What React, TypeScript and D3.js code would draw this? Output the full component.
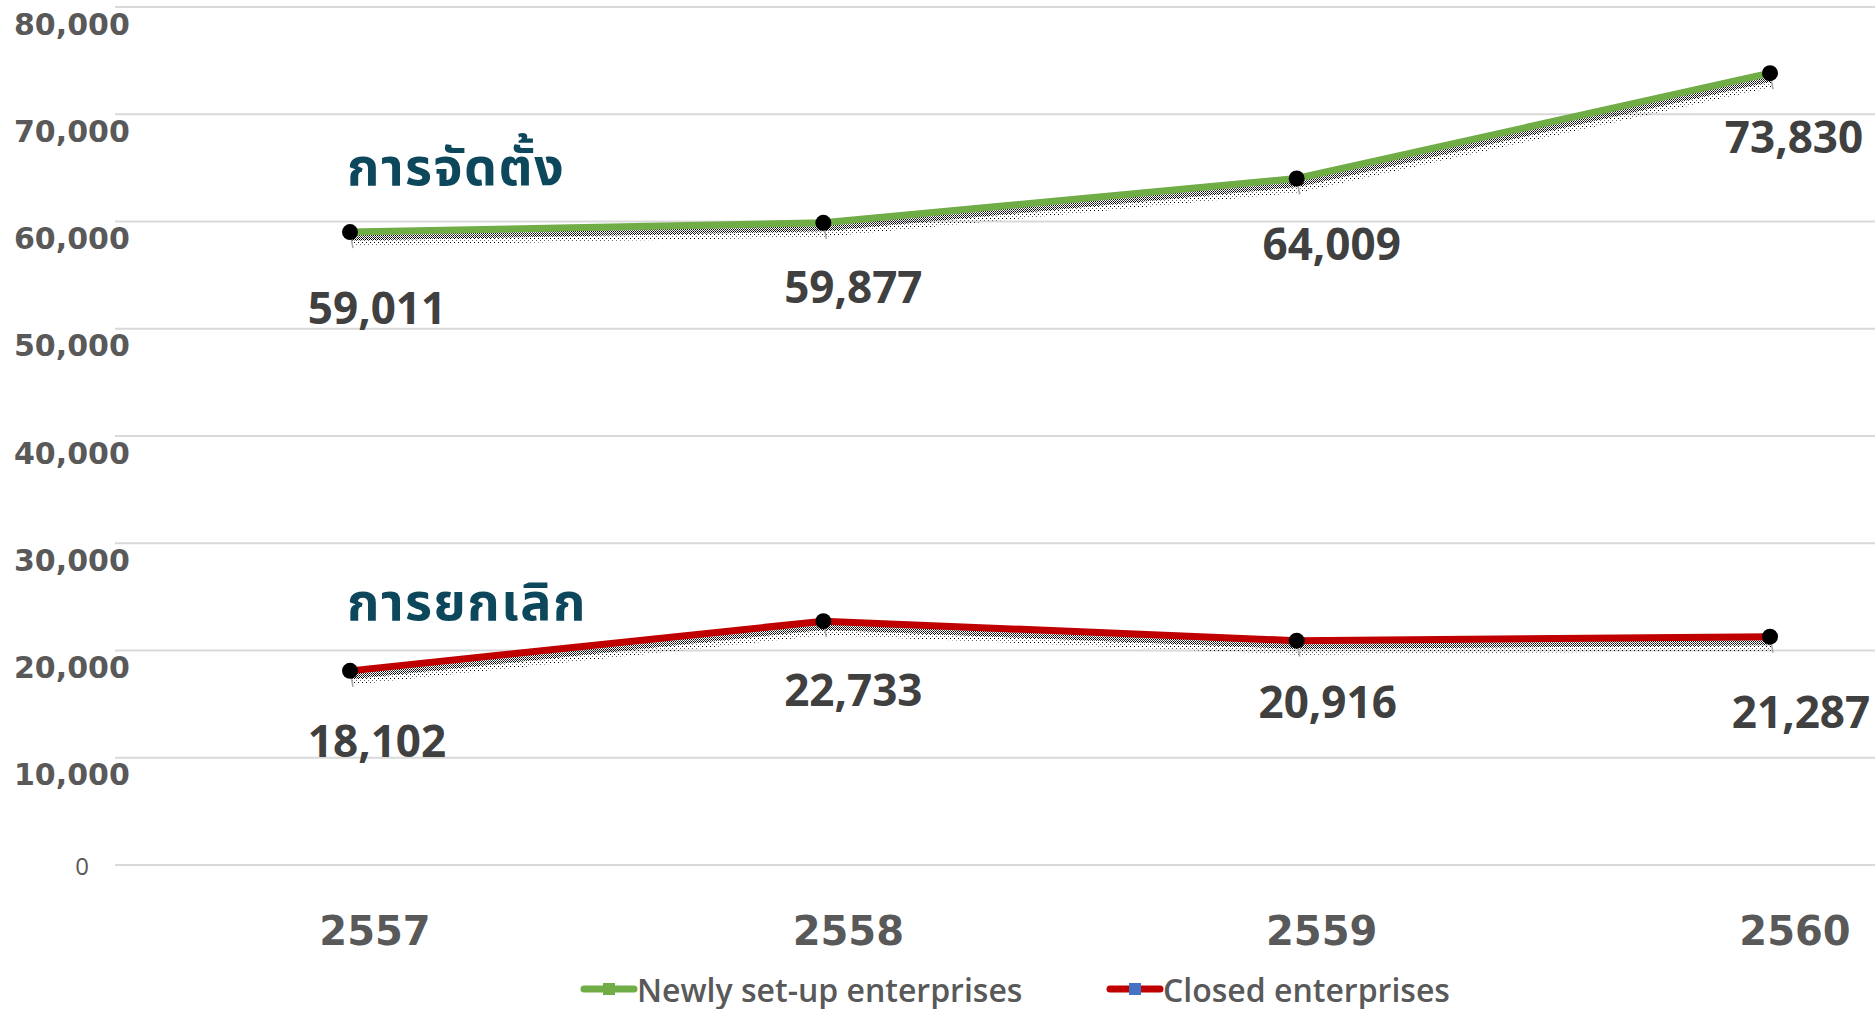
import React from "react";
import * as d3 from "d3";

const years = ["2557", "2558", "2559", "2560"];
const newlySetUp = [59011, 59877, 64009, 73830];
const closed = [18102, 22733, 20916, 21287];
const yTicks = [0, 10000, 20000, 30000, 40000, 50000, 60000, 70000, 80000];
const seriesNames = ["Newly set-up enterprises", "Closed enterprises"];
const annotations = ["การจัดตั้ง", "การยกเลิก"];

// layout nudges for data labels (pixels, [dx, dy]) per series/point
const labelNudges = [
  [[0, 8], [3, -4], [8, -3], [-3, -4]],
  [[0, 2], [3, 1], [4, -7], [4, 7]],
];

const W = 1875;
const H = 1009;

export default function App() {
  const x = d3.scalePoint<string>().domain(years).range([350, 1770]);
  const y = d3.scaleLinear().domain([0, 80000]).range([865, 7]);
  const line = d3
    .line<number>()
    .x((_, i) => x(years[i]) as number)
    .y((d) => y(d));
  const fmt = d3.format(",");

  const series = [
    { name: seriesNames[0], values: newlySetUp, color: "#70AD47", marker: "#70AD47" },
    { name: seriesNames[1], values: closed, color: "#C00000", marker: "#4472C4" },
  ];

  return (
    <svg
      width={W}
      height={H}
      style={{ position: "absolute", left: 0, top: 0, background: "#fff" }}
    >
      <defs>
        <pattern id="ditherDense" width="2" height="2" patternUnits="userSpaceOnUse">
          <rect x="0" y="0" width="1" height="1" fill="#000" />
          <rect x="1" y="1" width="1" height="1" fill="#000" opacity="0.7" />
        </pattern>
        <pattern id="ditherSparse" width="4" height="4" patternUnits="userSpaceOnUse">
          <rect x="0" y="0" width="1" height="1" fill="#000" />
          <rect x="2" y="2" width="1" height="1" fill="#000" opacity="0.6" />
        </pattern>
      </defs>
      {/* gridlines */}
      {yTicks.map((t) => (
        <line key={t} x1={115} x2={W} y1={y(t)} y2={y(t)} stroke="#d9d9d9" strokeWidth={2} />
      ))}
      {/* y tick labels */}
      {yTicks.map((t) =>
        t === 0 ? (
          <text
            key={t}
            x={89}
            y={y(t)}
            textAnchor="end"
            dominantBaseline="central"
            fontFamily="'Open Sans', sans-serif"
            fontSize={24}
            fill="#595959"
          >
            0
          </text>
        ) : (
          <text
            key={t}
            x={14}
            y={y(t) + 17}
            dominantBaseline="central"
            fontFamily="'DejaVu Sans', sans-serif"
            fontWeight="bold"
            fontSize={30}
            fill="#595959"
          >
            {fmt(t)}
          </text>
        )
      )}
      {/* x labels */}
      {years.map((yr) => (
        <text
          key={yr}
          x={(x(yr) as number) + 25}
          y={931}
          textAnchor="middle"
          dominantBaseline="central"
          fontFamily="'DejaVu Sans', sans-serif"
          fontWeight="bold"
          fontSize={40}
          fill="#595959"
        >
          {yr}
        </text>
      ))}
      {/* annotations */}
      {annotations.map((a, i) => (
        <text
          key={a}
          x={347}
          y={i === 0 ? 185 : 620}
          fontFamily="'Noto Sans Thai', 'Noto Sans', sans-serif"
          fontWeight="bold"
          fontSize={52}
          letterSpacing={1.5}
          fill="#0D475C"
        >
          {a}
        </text>
      ))}
      {/* series */}
      {series.map((s, si) => (
        <g key={s.name}>
          <path
            d={line(s.values) || ""}
            transform="translate(2,10)"
            fill="none"
            stroke="url(#ditherSparse)"
            strokeWidth={8}
          />
          <path
            d={line(s.values) || ""}
            transform="translate(1,5)"
            fill="none"
            stroke="url(#ditherDense)"
            strokeWidth={7}
          />
          <path d={line(s.values) || ""} fill="none" stroke={s.color} strokeWidth={7} />
          {s.values.map((v, i) => {
            const cx = x(years[i]) as number;
            const cy = y(v);
            const [dx, dy] = labelNudges[si][i];
            return (
              <g key={i}>
                <line x1={cx} y1={cy} x2={cx + 3} y2={cy + 16} stroke="#a6a6a6" strokeWidth={1.5} />
                <circle cx={cx} cy={cy} r={8} fill="#000" />
                <text
                  x={cx + 27 + dx}
                  y={cy + 67 + dy}
                  textAnchor="middle"
                  dominantBaseline="central"
                  fontFamily="'Open Sans', sans-serif"
                  fontWeight="bold"
                  fontSize={44}
                  fill="#404040"
                >
                  {fmt(v)}
                </text>
              </g>
            );
          })}
        </g>
      ))}
      {/* legend */}
      {series.map((s, i) => {
        const lx = i === 0 ? 584 : 1110;
        const ly = 989;
        return (
          <g key={s.name}>
            <line x1={lx} x2={lx + 50} y1={ly} y2={ly} stroke={s.color} strokeWidth={7} strokeLinecap="round" />
            <rect x={lx + 19} y={ly - 6} width={12} height={12} fill={s.marker} />
            <text
              x={lx + 53}
              y={ly}
              dominantBaseline="central"
              fontFamily="'Open Sans', sans-serif"
              fontWeight={600}
              fontSize={32}
              fill="#595959"
            >
              {s.name}
            </text>
          </g>
        );
      })}
    </svg>
  );
}
